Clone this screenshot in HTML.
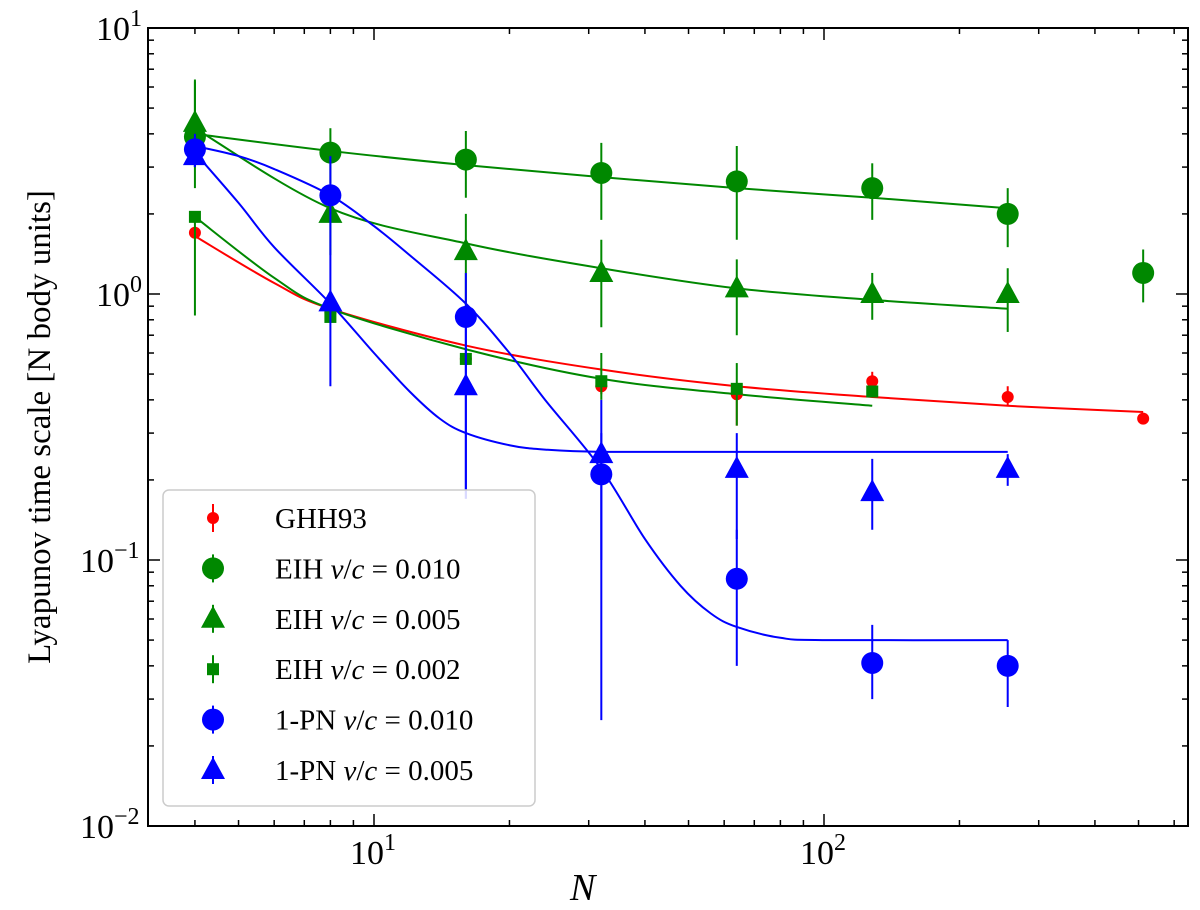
<!DOCTYPE html>
<html><head><meta charset="utf-8"><style>
html,body{margin:0;padding:0;background:#fff;}
svg{display:block;font-family:"Liberation Serif",serif;}
</style></head><body>
<svg id="c" width="1200" height="910"></svg>
<script>
const ghhN=[4,8,16,32,64,128,256,512];
const ghhV=[1.7,0.85,0.57,0.45,0.42,0.47,0.41,0.34];
const ghhLo=[1.7,0.85,0.57,0.42,0.32,0.44,0.38,0.34];
const ghhHi=[1.7,0.85,0.57,0.48,0.46,0.51,0.45,0.34];
const e10N=[4,8,16,32,64,128,256,512];
const e10V=[3.9,3.4,3.2,2.85,2.65,2.5,2.0,1.2];
const e10Lo=[2.5,2.6,2.3,1.9,1.6,1.9,1.5,0.93];
const e10Hi=[6.3,4.2,4.1,3.7,3.6,3.1,2.5,1.47];
const e05N=[4,8,16,32,64,128,256];
const e05V=[4.4,2.0,1.45,1.2,1.05,1.0,1.0];
const e05Lo=[3.0,1.4,0.9,0.75,0.7,0.8,0.72];
const e05Hi=[6.4,2.4,2.0,1.6,1.35,1.2,1.25];
const e02N=[4,8,16,32,64,128];
const e02V=[1.95,0.82,0.57,0.47,0.44,0.43];
const e02Lo=[0.83,0.82,0.57,0.4,0.32,0.43];
const e02Hi=[1.95,0.82,0.57,0.6,0.55,0.43];
const p10N=[4,8,16,32,64,128,256];
const p10V=[3.5,2.35,0.82,0.21,0.085,0.041,0.04];
const p10Lo=[3.0,1.5,0.17,0.025,0.04,0.03,0.028];
const p10Hi=[4.0,3.3,1.2,0.3,0.13,0.057,0.05];
const p05N=[4,8,16,32,64,128,256];
const p05V=[3.3,0.93,0.45,0.25,0.22,0.18,0.22];
const p05Lo=[3.0,0.45,0.17,0.1,0.12,0.13,0.19];
const p05Hi=[3.6,1.5,0.9,0.4,0.3,0.24,0.25];
const fitRedN=[4,6,8,16,32,64,128,256,512], fitRedV=[1.65,1.1,0.88,0.64,0.52,0.45,0.41,0.38,0.36];
const fitE10N=[4,8,16,32,64,128,256], fitE10V=[4.0,3.45,3.05,2.75,2.5,2.3,2.1];
const fitE05N=[4,8,16,32,64,128,256], fitE05V=[4.2,2.1,1.55,1.25,1.05,0.95,0.88];
const fitE02N=[4,6,8,16,32,64,128], fitE02V=[1.95,1.15,0.88,0.62,0.48,0.42,0.38];
const fitP10N=[4,5,6,8,10,12,16,20,24,32,40,48,56,64,80,100,256], fitP10V=[3.6,3.3,2.95,2.35,1.8,1.4,0.92,0.6,0.4,0.22,0.12,0.08,0.063,0.056,0.051,0.05,0.05];
const fitP05N=[4,5,6,8,10,12,14,16,20,24,32,64,256], fitP05V=[3.4,2.2,1.5,0.92,0.6,0.43,0.34,0.3,0.27,0.26,0.255,0.255,0.255];

const L=148,R=1188,T=28,B=826;
const X=n=>374+450*(Math.log10(n)-1);
const Y=v=>28+266*(1-Math.log10(v));
const svg=document.getElementById('c');const NS='http://www.w3.org/2000/svg';
function el(t,a,p){const e=document.createElementNS(NS,t);for(const k in a)e.setAttribute(k,a[k]);(p||svg).appendChild(e);return e;}
const ax=el('rect',{x:L,y:T,width:R-L,height:B-T,fill:'none',stroke:'#000','stroke-width':2});

const tg=el('g',{stroke:'#000'});
for(let d=0;d<=3;d++){for(let m=1;m<10;m++){const n=m*Math.pow(10,d);const x=X(n);if(x<L||x>R)continue;const len=m==1?12:6;
el('line',{x1:x,y1:B,x2:x,y2:B-len,'stroke-width':1.5},tg);el('line',{x1:x,y1:T,x2:x,y2:T+len,'stroke-width':1.5},tg);}}
for(let d=-2;d<=1;d++){for(let m=1;m<10;m++){const v=m*Math.pow(10,d);const y=Y(v);if(y<T-0.5||y>B+0.5)continue;const len=m==1?12:6;
el('line',{x1:L,y1:y,x2:L+len,y2:y,'stroke-width':1.5},tg);el('line',{x1:R,y1:y,x2:R-len,y2:y,'stroke-width':1.5},tg);}}
const xt=[[10,'1'],[100,'2']];
xt.forEach(([n,e])=>{const t=el('text',{x:X(n)-24,y:864,'font-size':34});t.textContent='10';const s=el('tspan',{dy:-14,'font-size':24},t);s.textContent=e;
});
const yt=[[10,'1'],[1,'0'],[0.1,'−1'],[0.01,'−2']];
yt.forEach(([v,e])=>{const t=el('text',{x:e.length>1?80:96,y:Y(v)+12,'font-size':34});t.textContent='10';const s=el('tspan',{dy:-14,'font-size':24},t);s.textContent=e;
});
const xl=el('text',{x:570,y:900,'font-size':38,'font-style':'italic'});xl.textContent='N';

const yl=el('text',{x:0,y:0,'font-size':33,'text-anchor':'middle',transform:'translate(50,427) rotate(-90)'});yl.textContent='Lyapunov time scale [N body units]';

function curve(N,V,col,name){let pts=N.map((n,i)=>[X(n),Y(V[i])]);let d='M'+pts[0];
for(let i=0;i<pts.length-1;i++){const p0=pts[Math.max(i-1,0)],p1=pts[i],p2=pts[i+1],p3=pts[Math.min(i+2,pts.length-1)];
d+=` C${p1[0]+(p2[0]-p0[0])/6},${p1[1]+(p2[1]-p0[1])/6} ${p2[0]-(p3[0]-p1[0])/6},${p2[1]-(p3[1]-p1[1])/6} ${p2[0]},${p2[1]}`;}
const p=el('path',{d:d,fill:'none',stroke:col,'stroke-width':2});}
curve(fitRedN,fitRedV,'#f00','fit-ghh93');curve(fitE10N,fitE10V,'#080','fit-eih-010');curve(fitE05N,fitE05V,'#080','fit-eih-005');
curve(fitE02N,fitE02V,'#080','fit-eih-002');curve(fitP10N,fitP10V,'#00f','fit-1pn-010');curve(fitP05N,fitP05V,'#00f','fit-1pn-005');
function marker(g,x,y,shape,col){if(shape=='c')el('circle',{cx:x,cy:y,r:11,fill:col},g);else if(shape=='s')el('circle',{cx:x,cy:y,r:6,fill:col},g);
else if(shape=='q')el('rect',{x:x-6,y:y-6,width:12,height:12,fill:col},g);
else el('polygon',{points:`${x},${y-13} ${x-12},${y+9} ${x+12},${y+9}`,fill:col},g);}
function series(N,V,Lo,Hi,shape,col,name){const g=el('g',{});
N.forEach((n,i)=>{const x=X(n);el('line',{x1:x,y1:Y(Lo[i]),x2:x,y2:Y(Hi[i]),stroke:col,'stroke-width':2},g);marker(g,x,Y(V[i]),shape,col);});}
series(ghhN,ghhV,ghhLo,ghhHi,'s','#f00','series-ghh93');
series(e10N,e10V,e10Lo,e10Hi,'c','#080','series-eih-010');
series(e05N,e05V,e05Lo,e05Hi,'t','#080','series-eih-005');
series(e02N,e02V,e02Lo,e02Hi,'q','#080','series-eih-002');
series(p10N,p10V,p10Lo,p10Hi,'c','#00f','series-1pn-010');
series(p05N,p05V,p05Lo,p05Hi,'t','#00f','series-1pn-005');
const lg=el('g',{});
el('rect',{x:163,y:490,width:372,height:316,rx:6,fill:'#fff','fill-opacity':0.85,stroke:'#ccc','stroke-width':1.5},lg);
const ent=[['s','#f00','GHH93'],['c','#080','EIH v/c = 0.010'],['t','#080','EIH v/c = 0.005'],['q','#080','EIH v/c = 0.002'],['c','#00f','1-PN v/c = 0.010'],['t','#00f','1-PN v/c = 0.005']];
ent.forEach((e,i)=>{const y=518+i*50.4;const g=el('g',{},lg);
el('line',{x1:213,y1:y-14,x2:213,y2:y+14,stroke:e[1],'stroke-width':2},g);marker(g,213,y,e[0],e[1]);
const t=el('text',{x:275,y:y+10,'font-size':29},g);
if(i==0)t.textContent='GHH93';else{const p=e[2].split(' ');t.textContent=p[0]+' ';const a=el('tspan',{'font-style':'italic'},t);a.textContent='v';
const b=el('tspan',{},t);b.textContent='/';const c=el('tspan',{'font-style':'italic'},t);c.textContent='c';const d=el('tspan',{},t);d.textContent=' = '+p[3];}});
</script>
</body></html>
